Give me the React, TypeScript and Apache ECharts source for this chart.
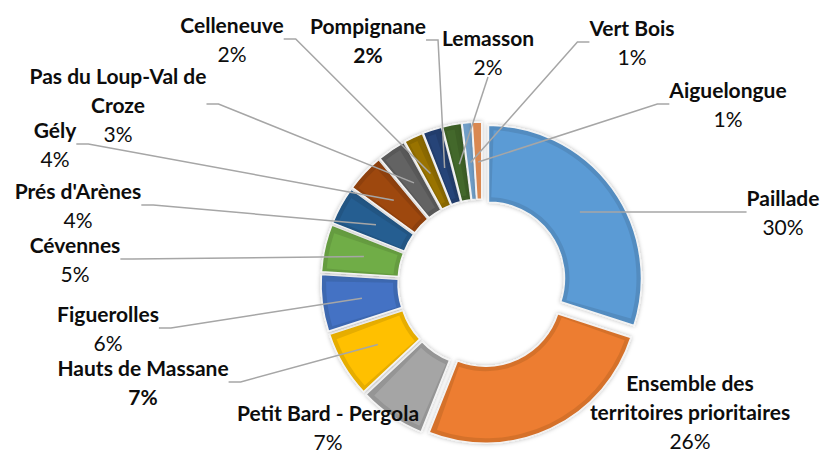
import React, { useEffect, useRef } from 'react';
import * as echarts from 'echarts';

// ---- data ----
const categories = [
  'Paillade',
  'Ensemble des territoires prioritaires',
  'Petit Bard - Pergola',
  'Hauts de Massane',
  'Figuerolles',
  'Cévennes',
  "Prés d'Arènes",
  'Gély',
  'Pas du Loup-Val de Croze',
  'Celleneuve',
  'Pompignane',
  'Lemasson',
  'Vert Bois',
  'Aiguelongue',
];
const shares = [30, 26, 7, 7, 6, 5, 4, 4, 3, 2, 2, 2, 1, 1];
const labelNames = [
  'Paillade',
  'Ensemble des\nterritoires prioritaires',
  'Petit Bard - Pergola',
  'Hauts de Massane',
  'Figuerolles',
  'Cévennes',
  "Prés d'Arènes",
  'Gély',
  'Pas du Loup-Val de\nCroze',
  'Celleneuve',
  'Pompignane',
  'Lemasson',
  'Vert Bois',
  'Aiguelongue',
];
const boldPercent = ['Hauts de Massane', 'Pompignane'];
const noLeader = ['Ensemble des territoires prioritaires', 'Petit Bard - Pergola'];

// ---- style / layout ----
const colors = [
  '#5B9BD5', '#ED7D31', '#A5A5A5', '#FFC000', '#4472C4', '#70AD47', '#255E91',
  '#9E480E', '#636363', '#997300', '#264478', '#43682B', '#7CAFDD', '#F1975A',
];
const labelCenters: number[][] = [
  [783, 212], [690, 411], [328, 427], [143, 382], [108, 328], [75, 259], [78, 205],
  [55, 144], [118, 104], [232, 39], [368, 40], [488, 52], [632, 42], [728, 104],
];
const CX = 482;
const CY = 283;
const R_IN = 76;
const R_OUT = 153;
const EXPLODE = 8;
const LEADER_R = 113;
const STUB = 12;
const FONT = 'Lato, "Open Sans", sans-serif';

function shade(hex: string, f: number) {
  const n = parseInt(hex.slice(1), 16);
  const r = Math.round(((n >> 16) & 255) * f);
  const g = Math.round(((n >> 8) & 255) * f);
  const b = Math.round((n & 255) * f);
  return `rgb(${r},${g},${b})`;
}

export default function App() {
  const ref = useRef<HTMLDivElement>(null);
  useEffect(() => {
    document.body.style.margin = '0';
    if (!ref.current) return;
    const chart = echarts.init(ref.current, null, { renderer: 'svg' });

    const baseData = categories.map((c, i) => ({ name: c, value: shares[i] }));

    const option: any = {
      animation: false,
      backgroundColor: '#ffffff',
      series: [
        {
          type: 'pie',
          center: [CX, CY],
          radius: [R_IN, R_OUT],
          startAngle: 90,
          clockwise: true,
          selectedMode: 'multiple',
          selectedOffset: EXPLODE,
          label: { show: false },
          labelLine: { show: false },
          emphasis: { disabled: true },
          itemStyle: {
            borderColor: '#f4f4f4',
            borderWidth: 1.5,
            shadowBlur: 4,
            shadowColor: 'rgba(0,0,0,0.28)',
          },
          data: baseData.map((d, i) => ({
            ...d,
            selected: true,
            itemStyle: { color: shade(colors[i], 0.9) },
          })),
        },
        {
          type: 'pie',
          silent: true,
          center: [CX, CY],
          radius: [R_IN + 5, R_OUT - 5],
          startAngle: 90,
          clockwise: true,
          padAngle: 4,
          selectedMode: 'multiple',
          selectedOffset: EXPLODE,
          label: { show: false },
          labelLine: { show: false },
          emphasis: { disabled: true },
          itemStyle: { borderWidth: 0 },
          data: baseData.map((d, i) => ({
            ...d,
            selected: true,
            itemStyle: { color: colors[i] },
          })),
        },
        {
          type: 'pie',
          silent: true,
          z: 5,
          center: [CX, CY],
          radius: [0, R_OUT],
          startAngle: 90,
          clockwise: true,
          avoidLabelOverlap: false,
          emphasis: { disabled: true },
          itemStyle: { color: 'rgba(0,0,0,0)', borderWidth: 0 },
          label: {
            show: true,
            position: 'outer',
            overflow: 'none',
            formatter: (p: any) =>
              `{n|${labelNames[p.dataIndex]}}\n{${boldPercent.includes(p.name) ? 'pb' : 'p'}|${p.percent}%}`,
            rich: {
              n: { fontFamily: FONT, fontWeight: 'bold', fontSize: 21, lineHeight: 29, color: '#0d0d0d', align: 'center' },
              p: { fontFamily: FONT, fontWeight: 'normal', fontSize: 21, lineHeight: 29, color: '#0d0d0d', align: 'center' },
              pb: { fontFamily: FONT, fontWeight: 'bold', fontSize: 21, lineHeight: 29, color: '#0d0d0d', align: 'center' },
            },
          },
          labelLine: {
            show: true,
            length: 10,
            length2: STUB,
            lineStyle: { color: '#a6a6a6', width: 1.5 },
          },
          labelLayout: (params: any) => {
            const i = params.dataIndex;
            const [lx, ly] = labelCenters[i];
            const w = params.labelRect.width;
            const h = params.labelRect.height;
            const rx = lx - w / 2;
            const ry = ly - h / 2;
            const pts = params.labelLinePoints;
            const out: any = { x: lx, y: ly, align: 'center', verticalAlign: 'middle' };
            if (pts && pts.length) {
              const dx = pts[0][0] - CX;
              const dy = pts[0][1] - CY;
              const len = Math.hypot(dx, dy) || 1;
              const ux = dx / len;
              const uy = dy / len;
              const p0 = [CX + ux * (LEADER_R + EXPLODE), CY + uy * (LEADER_R + EXPLODE)];
              const cands = [
                { a: [rx + w, ly], s: [rx + w + STUB, ly] },
                { a: [rx, ly], s: [rx - STUB, ly] },
                { a: [lx, ry + h], s: [lx, ry + h] },
                { a: [lx, ry], s: [lx, ry] },
              ];
              let best = cands[0];
              let bd = Infinity;
              for (const c of cands) {
                const d = Math.hypot(c.s[0] - p0[0], c.s[1] - p0[1]);
                if (d < bd) {
                  bd = d;
                  best = c;
                }
              }
              out.labelLinePoints = [p0, best.s, best.a];
            }
            return out;
          },
          data: baseData.map((d) => ({
            ...d,
            labelLine: { show: !noLeader.includes(d.name) },
          })),
        },
      ],
    };
    chart.setOption(option);
    return () => chart.dispose();
  }, []);
  return <div ref={ref} style={{ width: 824, height: 457 }} />;
}
